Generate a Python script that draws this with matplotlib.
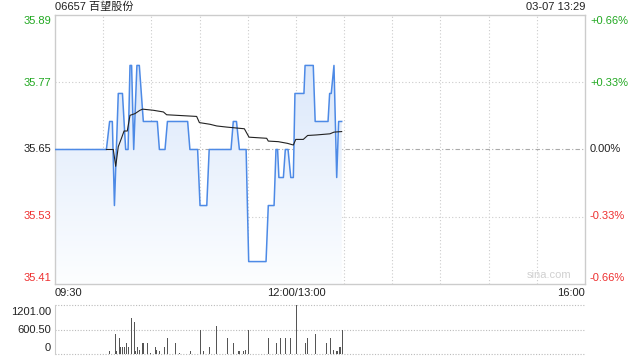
import numpy as np
import matplotlib
matplotlib.use("Agg")
import matplotlib.pyplot as plt
from matplotlib.patches import Polygon

plt.rcParams['font.family'] = ['Liberation Sans', 'Noto Sans CJK SC', 'DejaVu Sans']

# minutes since 09:30 with the lunch break removed (12:00/13:00 = 150, 16:00 = 330)
price_t = [0, 32, 34, 35.7, 37, 39.4, 42, 44, 45.5, 46.7, 47.7, 49, 51, 52.5, 55,
           63.7, 65, 68.5, 70, 82.6, 84, 88.8, 90.3, 94.5, 96, 109.6, 111, 113,
           114.8, 119, 120.6, 131.4, 132.8, 136.4, 137.6, 138.6, 139.4, 142.2,
           143.4, 145.1, 146.8, 148.4, 149.4, 155, 155.7, 160.8, 162, 170, 171,
           172, 173.7, 175.4, 176.6, 178.5]
price_v = [35.65, 35.65, 35.70, 35.70, 35.55, 35.75, 35.75, 35.65, 35.65, 35.80,
           35.80, 35.65, 35.80, 35.80, 35.70, 35.70, 35.65, 35.65, 35.70, 35.70,
           35.65, 35.65, 35.55, 35.55, 35.65, 35.65, 35.70, 35.70, 35.65, 35.65,
           35.45, 35.45, 35.55, 35.55, 35.65, 35.65, 35.60, 35.60, 35.65, 35.65,
           35.60, 35.60, 35.75, 35.75, 35.80, 35.80, 35.70, 35.70, 35.75, 35.75,
           35.80, 35.60, 35.70, 35.70]

avg_t = [32, 36.3, 37.8, 39.4, 41.5, 43, 45, 46.7, 49.8, 52.9, 54.6, 61.2, 67.5,
         69.5, 88.2, 89.9, 96.5, 100.7, 106.9, 117.9, 120.8, 131.8, 132.8, 139,
         144.7, 148.4, 149.9, 154.6, 157.3, 162.9, 171.2, 173.7, 178.5]
avg_v = [35.65, 35.65, 35.62, 35.655, 35.671, 35.683, 35.683, 35.711, 35.714,
         35.72, 35.722, 35.72, 35.717, 35.712, 35.709, 35.698, 35.695, 35.692,
         35.69, 35.687, 35.672, 35.67, 35.665, 35.664, 35.661, 35.658, 35.668,
         35.668, 35.675, 35.676, 35.678, 35.681, 35.682]

vol_t = [34.2, 37.4, 38.0, 39.9, 40.9, 41.9, 43.0, 44.4, 45.9, 47.5, 49.2, 50.0,
         51.3, 52.9, 54.4, 55.0, 57.3, 59.2, 62.5, 63.3, 64.8, 68.1, 69.9, 74.9,
         77.8, 84.5, 90.5, 92.4, 96.1, 100.5, 107.3, 111.0, 114.2, 114.8, 115.8,
         117.3, 118.9, 120.4, 120.8, 132.8, 138.0, 140.3, 143.8, 146.9, 150.3,
         155.7, 157.1, 161.9, 169.1, 171.8, 173.7, 175.0, 175.8, 177.0, 177.7, 178.9]
vol_v = [74, 490, 74, 384, 180, 180, 180, 278, 180, 882, 784, 74, 180, 98, 278,
         278, 278, 33, 180, 98, 74, 180, 400, 278, 16, 82, 588, 82, 180, 694, 400,
         278, 82, 82, 82, 82, 98, 588, 278, 400, 278, 400, 400, 400, 1201, 278,
         400, 490, 278, 400, 98, 82, 82, 180, 180, 588]

prev_close = 35.65
price_ticks = [35.89, 35.77, 35.65, 35.53, 35.41]
pct_labels = ['+0.66%', '+0.33%', '0.00%', '-0.33%', '-0.66%']
vol_labels = ['1201.00', '600.50', '0']
time_labels = ['09:30', '12:00/13:00', '16:00']

GREEN = '#21a821'
RED = '#ee3030'
DARK = '#222222'
W, H = 640, 360

fig = plt.figure(figsize=(6.4, 3.6), dpi=100)


def px(x, y):
    return x / W, 1 - y / H


ax = fig.add_axes([55 / W, 1 - 284 / H, 530 / W, 269 / H])
ax.set_xlim(0, 330)
ax.set_ylim(price_ticks[-1], price_ticks[0])
ax.set_xticks([])
ax.set_yticks([])
for s in ax.spines.values():
    s.set_color('#cccccc')
    s.set_linewidth(1)

# grid
for m in range(30, 330, 30):
    ax.axvline(m, color='#cccccc', lw=0.8, ls=(0, (1, 2)), zorder=0)
for p in (price_ticks[1], price_ticks[3]):
    ax.axhline(p, color='#cccccc', lw=0.8, ls=(0, (1, 2)), zorder=0)
ax.axhline(prev_close, color='#aaaaaa', lw=0.8, ls=(0, (4, 2, 1, 2)), zorder=0)

# gradient fill under the price line
ymin = price_ticks[-1]
verts = [(price_t[0], ymin)] + list(zip(price_t, price_v)) + [(price_t[-1], ymin)]
poly = Polygon(verts, closed=True, facecolor='none', edgecolor='none')
ax.add_patch(poly)
grad = np.linspace(0, 1, 256).reshape(-1, 1)
top = np.array([0.83, 0.89, 0.98])
bot = np.array([0.99, 0.995, 1.0])
img = top[None, None, :] * (1 - grad[:, :, None]) + bot[None, None, :] * grad[:, :, None]
im = ax.imshow(img, extent=[0, 330, price_ticks[-1], price_ticks[0]],
               aspect='auto', origin='upper', zorder=1)
im.set_clip_path(poly)

ax.plot(price_t, price_v, color='#4d8ae6', lw=1.1, zorder=3)
ax.plot(avg_t, avg_v, color='#222222', lw=0.8, zorder=4)

ax.text(0.975, 0.015, 'sina.com', transform=ax.transAxes, ha='right', va='bottom',
        fontsize=8, color='#d0d0d0')

# volume panel
vax = fig.add_axes([55 / W, 1 - 354 / H, 530 / W, 49 / H])
vax.set_xlim(0, 330)
vax.set_ylim(0, 1201)
vax.set_xticks([])
vax.set_yticks([])
for k, s in vax.spines.items():
    s.set_visible(k == 'left')
vax.spines['left'].set_color('#cccccc')
for v in (0, 600.5, 1201):
    vax.axhline(v, color='#bbbbbb', lw=0.8, ls=(0, (1, 1.5)), zorder=0, clip_on=False)
vax.bar(vol_t, vol_v, width=0.6, color='#555555', zorder=2)

# text labels
fs = 8
label_y = [21, 83, 149, 216, 278]
colors = [GREEN, GREEN, DARK, RED, RED]
for lab, yy, c in zip(price_ticks, label_y, colors):
    fig.text(*px(51, yy), f'{lab:.2f}', ha='right', va='center', fontsize=fs, color=c)
for lab, yy, c in zip(pct_labels, label_y, colors):
    fig.text(*px(590, yy), lab, ha='left', va='center', fontsize=fs, color=c)
for lab, yy in zip(vol_labels, [312, 330, 348]):
    fig.text(*px(51, yy), lab, ha='right', va='center', fontsize=fs, color=DARK)

fig.text(*px(55, 293), time_labels[0], ha='left', va='center', fontsize=fs, color=DARK)
fig.text(*px(296, 293), time_labels[1], ha='center', va='center', fontsize=fs, color=DARK)
fig.text(*px(585, 293), time_labels[2], ha='right', va='center', fontsize=fs, color=DARK)

fig.text(*px(55, 7), '06657 百望股份', ha='left', va='center', fontsize=fs, color=DARK)
fig.text(*px(585, 7), '03-07 13:29', ha='right', va='center', fontsize=fs, color=DARK)

fig.savefig('out.png', dpi=100)
